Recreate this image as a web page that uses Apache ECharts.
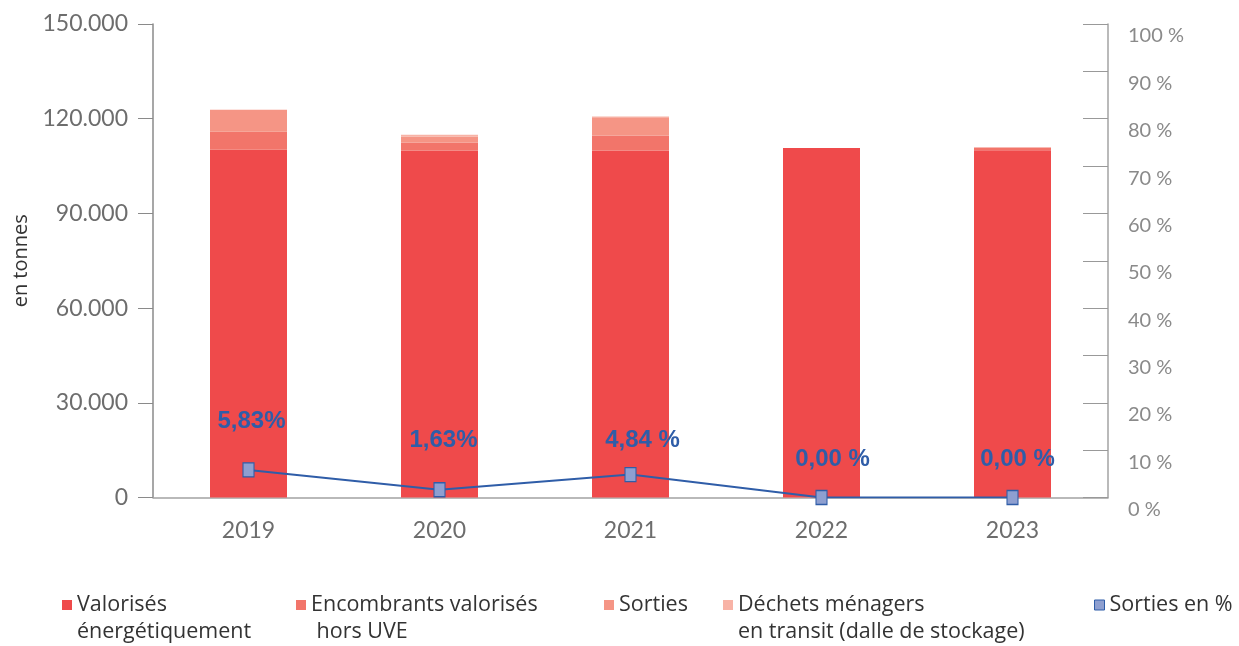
<!DOCTYPE html>
<html>
<head>
<meta charset="utf-8">
<script src="https://cdn.jsdelivr.net/npm/echarts@6/dist/echarts.min.js"></script>
<style>
  html, body { margin: 0; padding: 0; background: #fff; }
  #chart { width: 1239px; height: 646px; }
</style>
</head>
<body>
<div id="chart"></div>
<script>
// values (tonnes)
const years = ['2019', '2020', '2021', '2022', '2023'];
const valorises = [110200, 109900, 109900, 110700, 110000];
const encombrants = [5700, 2600, 4750, 0, 900];
const sorties = [6900, 1850, 5800, 0, 0];
const dechetsTransit = [0, 600, 250, 0, 0];
const sortiesPct = [5.83, 1.63, 4.84, 0, 0];
const pctLabels = ['5,83%', '1,63%', '4,84 %', '0,00 %', '0,00 %'];
const leftTicks = [0, 30000, 60000, 90000, 120000, 150000];

// label placement (style only)
const pctLabelOffsets = [[3, -49], [4, -49], [12, -34], [11, -38], [5, -38]];

const names = [
  'Valorisés\nénergétiquement',
  'Encombrants valorisés\n hors UVE',
  'Sorties',
  'Déchets ménagers\nen transit (dalle de stockage)',
  'Sorties en %'
];
const colors = ['#EF4A4B', '#F2756A', '#F59585', '#F8B3A6'];
const font = 'Lato, "Open Sans", sans-serif';
const legendFont = '"Open Sans", Lato, sans-serif';

const fmtThousands = v => String(v).replace(/\B(?=(\d{3})+(?!\d))/g, '.');

// two-line names get a blank first line so the icon sits beside line one
function legendAt(name, left, iconTop, twoLines) {
  return {
    data: [name],
    left: left,
    top: twoLines ? iconTop - 35.5 : iconTop - 8.5,
    padding: 0,
    itemWidth: 10,
    itemHeight: 10,
    itemGap: 0,
    icon: 'rect',
    selectedMode: false,
    formatter: n => (twoLines ? ' \n' + n : n),
    textStyle: {
      fontFamily: legendFont,
      fontSize: 21.5,
      color: '#333',
      lineHeight: 27
    }
  };
}

const barSeries = [valorises, encombrants, sorties, dechetsTransit].map((d, i) => ({
  name: names[i],
  type: 'bar',
  stack: 'total',
  barWidth: 77,
  data: d,
  itemStyle: { color: colors[i] }
}));

const chart = echarts.init(document.getElementById('chart'));
chart.setOption({
  animation: false,
  grid: { left: 153, right: 131, top: 24, bottom: 148.5 },
  legend: [
    legendAt(names[0], 62, 600, true),
    legendAt(names[1], 296, 600, true),
    legendAt(names[2], 604, 600, false),
    legendAt(names[3], 723, 600, true),
    Object.assign(legendAt(names[4], 1094, 600, false), {
      itemStyle: { color: '#8E9FD0', borderColor: '#2F5DA8', borderWidth: 1 }
    })
  ],
  xAxis: {
    type: 'category',
    data: years,
    axisLine: { lineStyle: { color: '#a3a3a3', width: 1.5 } },
    axisTick: { inside: true, length: 12, lineStyle: { color: '#999' } },
    axisLabel: { fontFamily: font, fontSize: 23, color: '#6d6d6d', margin: 22 }
  },
  yAxis: [
    {
      type: 'value',
      min: leftTicks[0],
      max: leftTicks[leftTicks.length - 1],
      interval: leftTicks[1] - leftTicks[0],
      name: 'en tonnes',
      nameLocation: 'middle',
      nameRotate: 90,
      nameGap: 108,
      nameTextStyle: { fontFamily: legendFont, fontSize: 20, color: '#333' },
      splitLine: { show: false },
      axisLine: { show: true, lineStyle: { color: '#8a8a8a', width: 1.5 } },
      axisTick: { show: true, length: 15, lineStyle: { color: '#8a8a8a' } },
      axisLabel: {
        fontFamily: font, fontSize: 23, color: '#6d6d6d', margin: 25,
        formatter: fmtThousands
      }
    },
    {
      type: 'value',
      min: 0,
      max: 100,
      interval: 10,
      position: 'right',
      splitLine: { show: false },
      axisLine: { show: true, lineStyle: { color: '#a3a3a3', width: 1.5 } },
      axisTick: { show: true, inside: true, length: 25, lineStyle: { color: '#999' } },
      axisLabel: {
        fontFamily: font, fontSize: 20, color: '#8a8a8a', margin: 20,
        verticalAlign: 'top', padding: [2, 0, 0, 0], formatter: '{value} %'
      }
    }
  ],
  series: barSeries.concat([{
    name: names[4],
    type: 'line',
    yAxisIndex: 1,
    z: 5,
    data: sortiesPct.map((v, i) => ({
      value: v,
      label: { formatter: pctLabels[i], offset: pctLabelOffsets[i] }
    })),
    symbol: 'rect',
    symbolSize: [11, 14],
    lineStyle: { color: '#2F5DA8', width: 2 },
    itemStyle: { color: '#8E9FD0', borderColor: '#2F5DA8', borderWidth: 1.2 },
    label: {
      show: true,
      position: 'inside',
      fontFamily: '"Liberation Sans", Arial, sans-serif',
      fontWeight: 'bold',
      fontSize: 24,
      color: '#2F5DA8'
    }
  }])
});
</script>
</body>
</html>
